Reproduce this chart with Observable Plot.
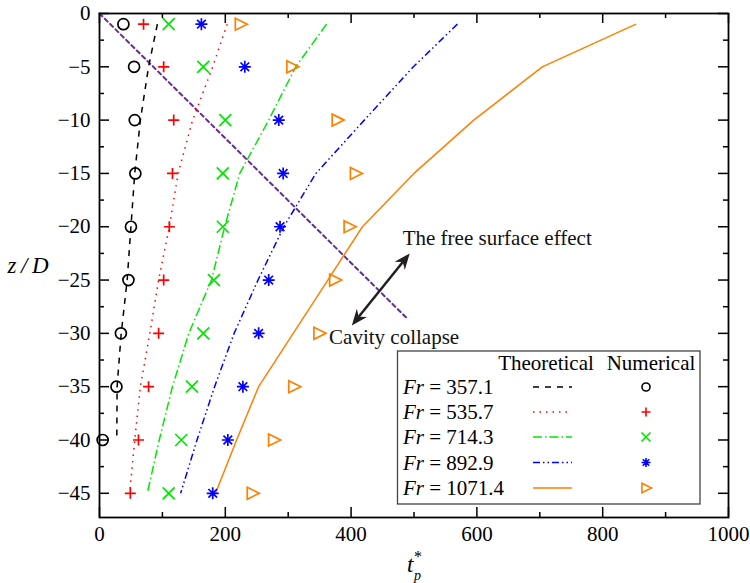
<!DOCTYPE html>
<html><head><meta charset="utf-8">
<script src="https://cdn.jsdelivr.net/npm/d3@7"></script>
<script src="https://cdn.jsdelivr.net/npm/@observablehq/plot@0.6"></script>
<style>
body{margin:0;background:#fff}
svg{display:block}
svg text, svg tspan { font-family: "Liberation Serif", "Times New Roman", Times, serif !important; }
</style>
</head><body><div id="chart"></div>
<script>
// ---- data ----
const depths = [-1, -5, -10, -15, -20, -25, -30, -35, -40, -45];
const frLabels = ["357.1", "535.7", "714.3", "892.9", "1071.4"];
const theo357 = [92, 78, 65, 56, 50, 44, 34.5, 28, 27.5];
const theo535 = [203, 180, 148, 125, 111, 94, 80, 65, 56, 48];
const theo714 = [361, 312, 269, 223, 199, 178, 142, 116, 95, 76];
const theo892 = [569, 499, 421, 344, 293, 252, 214, 183, 155, 129];
const theo1071 = [853, 704, 595, 500, 418, 363, 308, 253, 218, 184.5];
const num357 = [38, 55, 56, 57, 50, 46, 34, 27, 5];
const num535 = [70, 102, 118, 116, 111, 102, 94, 78, 62, 49];
const num714 = [110, 165, 200, 196, 196, 182, 165, 147, 130, 110];
const num892 = [162, 231, 285, 292, 287, 269, 253, 228, 204, 180];
const num1071 = [224, 306, 378, 407, 397, 374, 349, 309, 277, 243];
const xMajor = [0, 200, 400, 600, 800, 1000];
const xMinor = [100, 300, 500, 700, 900];
const yMajor = [0, -5, -10, -15, -20, -25, -30, -35, -40, -45];
const yMinor = [-2.5, -7.5, -12.5, -17.5, -22.5, -27.5, -32.5, -37.5, -42.5];
const freeSurfaceX = [0, 489];
const freeSurfaceY = [0, -28.6];
const notes = ["The free surface effect", "Cavity collapse"];
const noteX = [482, 365];
const noteY = [-21.1, -30.4];
const arrowX = [402, 494];
const arrowY = [-29.3, -22.55];

// ---- symbols ----
const rad = s => Math.sqrt(s / Math.PI);
const symPlus = {draw(c, s) { const r = rad(s); c.moveTo(-r, 0); c.lineTo(r, 0); c.moveTo(0, -r); c.lineTo(0, r); }};
const symTimes = {draw(c, s) { const r = rad(s) * 0.75; c.moveTo(-r, -r); c.lineTo(r, r); c.moveTo(-r, r); c.lineTo(r, -r); }};
const symAst = {draw(c, s) { const r = rad(s); const d = r * 0.72;
  c.moveTo(0, -r); c.lineTo(0, r); c.moveTo(-r, 0); c.lineTo(r, 0);
  c.moveTo(-d, -d); c.lineTo(d, d); c.moveTo(-d, d); c.lineTo(d, -d); }};
const symTri = {draw(c, s) { const r = rad(s); c.moveTo(-0.85 * r, -r); c.lineTo(1.15 * r, 0); c.lineTo(-0.85 * r, r); c.closePath(); }};

const series = [
  {theo: theo357, num: num357, color: "#000000", dash: "6,6", sym: "circle", r: 5.5, lr: 4},
  {theo: theo535, num: num535, color: "#ff0000", dash: "1.5,5", sym: symPlus, r: 5.5, lr: 4.5},
  {theo: theo714, num: num714, color: "#00e600", dash: "9,3,1.5,3", sym: symTimes, r: 8, lr: 6},
  {theo: theo892, num: num892, color: "#0000ff", dash: "7,3,1.5,3,1.5,3", sym: symAst, r: 6, lr: 4.5},
  {theo: theo1071, num: num1071, color: "#ff8000", dash: null, sym: symTri, r: 6, lr: 4.8}
];

const W = 750, H = 583, mL = 99, mR = 22, mT = 13, mB = 66;
const innerW = W - mL - mR, innerH = H - mT - mB;
const font = "Liberation Serif, Times New Roman, serif";

const marks = [
  Plot.axisX({ticks: xMajor, tickSize: 0, tickPadding: 9, label: null, tickFormat: "d", fontSize: 21}),
  Plot.axisY({ticks: yMajor, tickSize: 0, tickPadding: 9, label: null, tickFormat: "d", fontSize: 21}),
  Plot.tickX(xMajor, {x: d => d, stroke: "#000", strokeWidth: 1.5, insetTop: innerH - 10}),
  Plot.tickX(xMinor, {x: d => d, stroke: "#000", strokeWidth: 1.5, insetTop: innerH - 5}),
  Plot.tickX(xMajor, {x: d => d, stroke: "#000", strokeWidth: 1.5, insetBottom: innerH - 10}),
  Plot.tickX(xMinor, {x: d => d, stroke: "#000", strokeWidth: 1.5, insetBottom: innerH - 5}),
  Plot.tickY(yMajor, {y: d => d, stroke: "#000", strokeWidth: 1.5, insetRight: innerW - 10}),
  Plot.tickY(yMinor, {y: d => d, stroke: "#000", strokeWidth: 1.5, insetRight: innerW - 5}),
  Plot.tickY(yMajor, {y: d => d, stroke: "#000", strokeWidth: 1.5, insetLeft: innerW - 10}),
  Plot.tickY(yMinor, {y: d => d, stroke: "#000", strokeWidth: 1.5, insetLeft: innerW - 5}),
  Plot.line(freeSurfaceX.map((x, i) => ({x, y: freeSurfaceY[i]})), {x: "x", y: "y", stroke: "#6a2c91", strokeWidth: 2, strokeDasharray: "4,3.5"})
];
for (const s of series) {
  marks.push(Plot.line(s.theo.map((x, i) => ({x, y: depths[i]})), {
    x: "x", y: "y", stroke: s.color, strokeWidth: 1.5, strokeDasharray: s.dash, strokeLinecap: "butt"
  }));
}
for (const s of series) {
  marks.push(Plot.dot(s.num.map((x, i) => ({x, y: depths[i]})), {
    x: "x", y: "y", symbol: () => s.sym, r: s.r, stroke: s.color, strokeWidth: 1.7, fill: "none"
  }));
}
marks.push(Plot.text(notes.map((t, i) => ({t, x: noteX[i], y: noteY[i]})), {
  x: "x", y: "y", text: "t", textAnchor: "start", fontSize: 21, fill: "#111"
}));
marks.push(Plot.frame({stroke: "#000", strokeWidth: 1.8}));

const plot = Plot.plot({
  width: W, height: H,
  marginLeft: mL, marginRight: mR, marginTop: mT, marginBottom: mB,
  x: {domain: [0, 1000]},
  y: {domain: [-47.27, 0]},
  symbol: {type: "identity"},
  style: {fontFamily: font, fontSize: "21px", background: "white", color: "#000", overflow: "visible"},
  marks
});
document.getElementById("chart").appendChild(plot);

const sx = plot.scale("x").apply, sy = plot.scale("y").apply;
const svg = d3.select(plot);

// double-headed arrow
{
  const x1 = sx(arrowX[0]), y1 = sy(arrowY[0]), x2 = sx(arrowX[1]), y2 = sy(arrowY[1]);
  const g = svg.append("g").attr("fill", "#231f20").attr("stroke", "#231f20");
  const L = Math.hypot(x2 - x1, y2 - y1), ux = (x2 - x1) / L, uy = (y2 - y1) / L;
  const hl = 16, hw = 6.5, notch = 11;
  g.append("line").attr("x1", x1 + ux * notch).attr("y1", y1 + uy * notch)
    .attr("x2", x2 - ux * notch).attr("y2", y2 - uy * notch).attr("stroke-width", 2.5);
  const head = (tx, ty, dx, dy) => {
    const bx = tx - dx * hl, by = ty - dy * hl, nx = -dy, ny = dx;
    const mx = tx - dx * notch, my = ty - dy * notch;
    return `M${tx},${ty}L${bx + nx * hw},${by + ny * hw}L${mx},${my}L${bx - nx * hw},${by - ny * hw}Z`;
  };
  g.append("path").attr("d", head(x2, y2, ux, uy)).attr("stroke", "none");
  g.append("path").attr("d", head(x1, y1, -ux, -uy)).attr("stroke", "none");
}

// axis labels
svg.append("text").attr("x", 28).attr("y", 273).attr("text-anchor", "middle")
  .attr("font-size", 23).attr("font-style", "italic")
  .text("z\u2009/\u2009D");
svg.append("text").attr("x", 407).attr("y", 572).attr("text-anchor", "start")
  .attr("font-style", "italic").attr("font-size", 23).text("t");
svg.append("text").attr("x", 414).attr("y", 580).attr("text-anchor", "start")
  .attr("font-style", "italic").attr("font-size", 14).text("p");
svg.append("text").attr("x", 414).attr("y", 562).attr("text-anchor", "start")
  .attr("font-size", 16).text("*");

// legend
{
  const g = svg.append("g").attr("font-size", 21).attr("text-anchor", "start");
  g.append("rect").attr("x", 397.5).attr("y", 351).attr("width", 302.5).attr("height", 153)
    .attr("fill", "white").attr("stroke", "#444").attr("stroke-width", 1.3);
  g.append("text").attr("x", 546).attr("y", 363).attr("dy", "0.35em").attr("text-anchor", "middle").text("Theoretical");
  g.append("text").attr("x", 651).attr("y", 363).attr("dy", "0.35em").attr("text-anchor", "middle").text("Numerical");
  const rowsY = [387, 412, 437, 462.5, 488];
  series.forEach((s, i) => {
    const y = rowsY[i];
    const t = g.append("text").attr("x", 403).attr("y", y).attr("dy", "0.35em").attr("text-anchor", "start");
    t.append("tspan").attr("font-style", "italic").text("Fr");
    t.append("tspan").text(" = " + frLabels[i]);
    g.append("line").attr("x1", 533).attr("x2", 572).attr("y1", y).attr("y2", y)
      .attr("stroke", s.color).attr("stroke-width", 1.5).attr("stroke-dasharray", s.dash);
    const type = s.sym === "circle" ? d3.symbolCircle : s.sym;
    g.append("path").attr("transform", `translate(646,${y})`)
      .attr("d", d3.symbol(type, Math.PI * s.lr * s.lr)())
      .attr("fill", "none").attr("stroke", s.color).attr("stroke-width", 1.6);
  });
}
</script>
</body></html>
